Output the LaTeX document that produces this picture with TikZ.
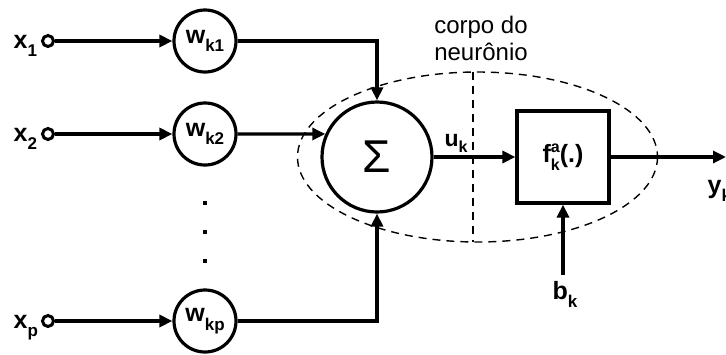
\documentclass[tikz,border=0pt]{standalone}
\usepackage{fontspec}
\setmainfont{Liberation Sans}
\usetikzlibrary{arrows.meta}
\newcommand\blab[2]{{\fontsize{25}{25}\selectfont\bfseries #1\raisebox{-0.34em}{\fontsize{17}{17}\selectfont #2}}}
\newcommand\sblab[2]{{\fontsize{23}{23}\selectfont\bfseries #1\raisebox{-0.3em}{\fontsize{16}{16}\selectfont #2}}}
\newcommand\flab{{\fontsize{25}{25}\selectfont\bfseries f\rlap{\raisebox{0.4em}{\fontsize{16}{16}\selectfont a}}\raisebox{-0.32em}{\fontsize{16}{16}\selectfont k}(.)}}
\begin{document}
\begin{tikzpicture}[x=1pt,y=-1pt,line width=3.2pt,
  >={Triangle[length=13pt,width=12pt]},
  wcirc/.style={circle,draw,minimum size=62pt,inner sep=0pt},
  inp/.style={circle,draw,line width=3pt,minimum size=11pt,inner sep=0pt},
  scirc/.style={circle,draw,minimum size=110pt,inner sep=0pt},
  fbox/.style={rectangle,draw,minimum width=92pt,minimum height=92pt,inner sep=0pt},
  dotsq/.style={rectangle,fill,minimum size=4pt,inner sep=0pt},
  bodyline/.style={line width=1.4pt,dash pattern=on 8pt off 6pt}]
\useasboundingbox (0,0) rectangle (726,354);
% inputs
\node[inp] (i1) at (48,41) {};
\node[inp] (i2) at (48,134) {};
\node[inp] (ip) at (48,321) {};
\node[anchor=base west,inner sep=0pt] (l1) at (12,48) {\blab{x}{1}};
\node[anchor=base west,inner sep=0pt] (l2) at (12,141) {\blab{x}{2}};
\node[anchor=base west,inner sep=0pt] (lp) at (12,328) {\blab{x}{p}};
% weights
\node[wcirc] (w1) at (205,41) {\blab{w}{k1}};
\node[wcirc] (w2) at (205,134) {\blab{w}{k2}};
\node[wcirc] (wp) at (205,321) {\blab{w}{kp}};
\node[dotsq] (d1) at (205,203) {};
\node[dotsq] (d2) at (205,232) {};
\node[dotsq] (d3) at (205,261) {};
% summation and activation
\node[scirc] (s) at (377,157) {\fontsize{46}{46}\selectfont Σ};
\node[fbox] (f) at (563,157) {\flab};
\coordinate (out) at (726,157);
\coordinate (b) at (563,275);
% neuron body
\draw[bodyline] (477.5,157) ellipse [x radius=180, y radius=85];
\draw[bodyline] (473,72) -- (473,242);
\node[anchor=base,inner sep=0pt] (t1) at (481,33) {\fontsize{24}{24}\selectfont corpo do};
\node[anchor=base,inner sep=0pt] (t2) at (481,60) {\fontsize{24}{24}\selectfont neurônio};
% connectors
\draw[->] (i1) -- (w1);
\draw[->] (i2) -- (w2);
\draw[->] (ip) -- (wp);
\draw[->] (w1.east) -| (s.north);
\draw[->] (w2.east) -- (s.156);
\draw[->] (wp.east) -| (s.south);
\draw[->] (s.east) -- (f.west);
\draw[->] (f.east) -- (out);
\draw[->] (b) -- (f.south);
% labels
\node[anchor=base west,inner sep=0pt] (ul) at (443,146) {\sblab{u}{k}};
\node[anchor=base west,inner sep=0pt] (yl) at (706,193) {\blab{y}{k}};
\node[anchor=base west,inner sep=0pt] (bl) at (551,299) {\blab{b}{k}};
\end{tikzpicture}
\end{document}
